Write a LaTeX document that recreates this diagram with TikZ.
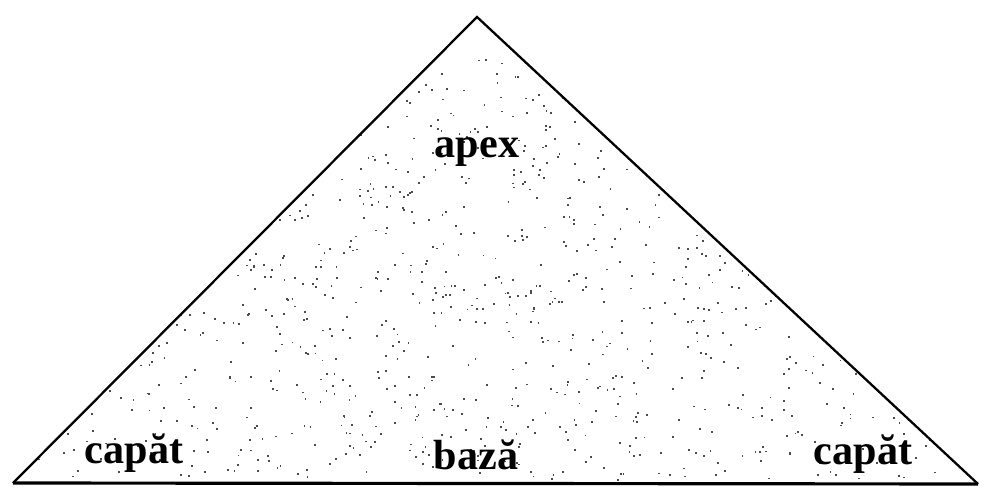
\documentclass[tikz,border=0pt]{standalone}
\usepackage{fontspec}
\setmainfont{Liberation Serif}
\usetikzlibrary{positioning}
\tikzset{
  eticheta/.style={font=\fontsize{24}{28}\selectfont\bfseries, inner sep=0pt, anchor=base},
  latura/.style={line width=1.3pt, line join=miter}
}

\begin{document}
\begin{tikzpicture}[x=0.02cm, y=0.02cm]
\useasboundingbox (0,0) rectangle (982,486);
% corners of the triangle (image pixels, y flipped)
\coordinate (stanga) at (13,3);
\coordinate (varf) at (477,469);
\coordinate (dreapta) at (978,2);
% speckle of the scanned sheet
\begin{scope}
  \clip (stanga) -- (varf) -- (dreapta) -- cycle;
  \pgfmathsetseed{7}
  \foreach \i in {1,...,1400}{
    \pgfmathsetmacro{\px}{20+940*rnd}
    \pgfmathsetmacro{\py}{5+420*rnd}
    \fill[black!70] (\px,\py) rectangle ++(1.8,1.8);
  }
\end{scope}
\draw[latura] (stanga) -- (varf) -- (dreapta);
\draw[line width=1.8pt] (stanga) -- (dreapta);
% labels
\node[eticheta] (apex) at (477,328) {apex};
\node[eticheta] (capatst) at (134,23) {capăt};
\node[eticheta] (baza) at (476,16) {bază};
\node[eticheta] (capatdr) at (863,21) {capăt};
\end{tikzpicture}
\end{document}
